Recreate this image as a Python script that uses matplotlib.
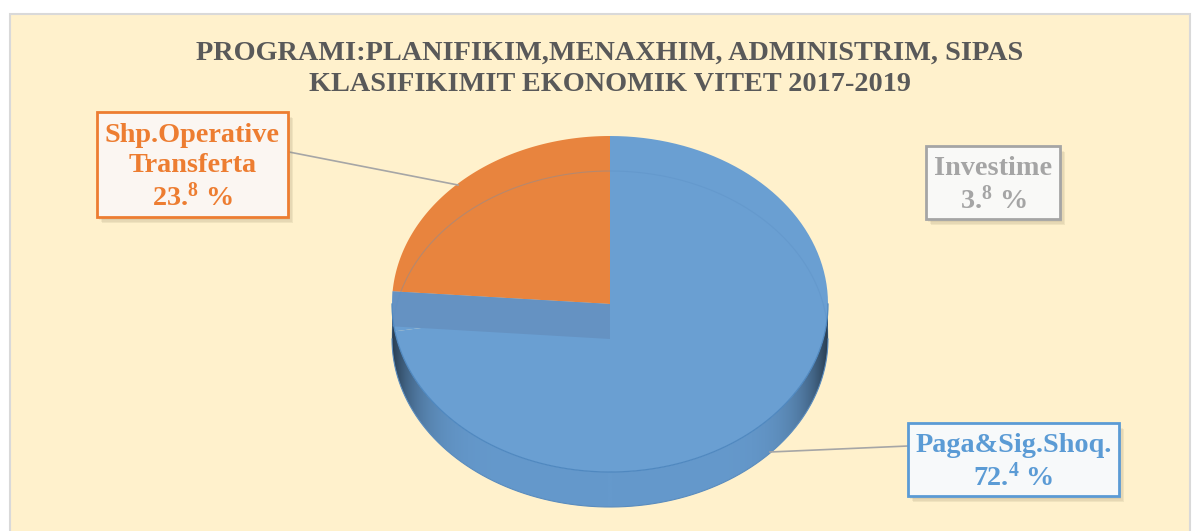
import numpy as np
import matplotlib
matplotlib.use('Agg')
import matplotlib.pyplot as plt
from matplotlib.patches import Polygon, Rectangle

# data
categories = ['Paga&Sig.Shoq.', 'Investime', 'Shp.Operative\nTransferta']
shares = [72.4, 3.8, 23.8]
slice_colors = ['#6A9FD2', '#6A9FD2', '#E8843E']   # Investime slice is not visible in the original
label_colors = ['#5B9BD5', '#A5A5A5', '#ED7D31']
box_fills = ['#F7F9FA', '#F9F9F7', '#FBF6F2']
title = 'PROGRAMI:PLANIFIKIM,MENAXHIM, ADMINISTRIM, SIPAS\nKLASIFIKIMIT EKONOMIK VITET 2017-2019'

plt.rcParams['mathtext.fontset'] = 'custom'
plt.rcParams['mathtext.bf'] = 'Liberation Serif:bold'
plt.rcParams['mathtext.rm'] = 'Liberation Serif:bold'
plt.rcParams['mathtext.default'] = 'bf'

W, H = 1196, 531
fig = plt.figure(figsize=(W / 100, H / 100), dpi=100, facecolor='white')
ax = fig.add_axes([0, 0, 1, 1])
ax.set_xlim(0, W)
ax.set_ylim(H, 0)
ax.axis('off')

# chart area
ax.add_patch(Rectangle((10, 14), 1180, 530, facecolor='#FFF1CC', edgecolor='#D9D9D9', lw=1.5, zorder=0))

ax.text(610, 69, title, ha='center', va='center', fontsize=20.3, fontweight='bold',
        family='Liberation Serif', color='#595959', linespacing=1.32, zorder=5)

# pie geometry (pixels)
cx, cy, rx, ry, depth = 610, 304, 218, 168, 35


def pt(theta, r=1.0, dz=0.0):
    # theta in degrees, clockwise from 12 o'clock
    t = np.radians(theta)
    return cx + r * rx * np.sin(t), cy - r * ry * np.cos(t) + dz


# angles from values
fracs = np.array(shares) / sum(shares)
ends = np.cumsum(fracs) * 360
starts = ends - fracs * 360

# side wall (front half) with shading
th = np.linspace(90, 270, 200)
top = np.array([pt(t) for t in th])
bot = np.array([pt(t, dz=depth) for t in th])[::-1]
wall = Polygon(np.vstack([top, bot]), closed=True, facecolor='none', edgecolor='none', zorder=2)
ax.add_patch(wall)
xs = np.linspace(cx - rx, cx + rx, 400)
tt = np.abs((xs - cx) / rx)
shade = 1 - 0.6 * tt ** 8
base = np.array(matplotlib.colors.to_rgb('#6599CC'))
img = (shade[:, None] * base[None, :])[None, :, :]
im = ax.imshow(img, extent=(cx - rx, cx + rx, cy + ry + depth, cy - 5), aspect='auto', zorder=2)
im.set_clip_path(wall)
ax.plot(bot[:, 0], bot[:, 1], color='#5A8CBE', lw=0.8, zorder=3)

# top face wedges
for s, e, c in zip(starts, ends, slice_colors):
    arc = np.array([pt(t) for t in np.linspace(s, e, 120)])
    ax.add_patch(Polygon(np.vstack([[cx, cy], arc]), closed=True, facecolor=c, edgecolor='none', zorder=4))

# inner radial wall seen through the face under the orange slice
a = starts[2]
p1 = pt(a)
band = [(cx, cy), p1, (p1[0], p1[1] + depth), (cx, cy + depth)]
ax.add_patch(Polygon(band, closed=True, facecolor='#6592C2', edgecolor='none', zorder=5))

# back edge of the bottom rim, faintly visible
bk = np.array([pt(t, dz=depth) for t in np.linspace(-90, 90, 200)])
ax.plot(bk[:, 0], bk[:, 1], color='#5B8FC4', lw=0.8, alpha=0.35, zorder=6)
ax.plot(top[:, 0], top[:, 1], color='#4F88C0', lw=0.9, zorder=6)

# labels
boxes = [(908, 423, 211, 73), (926, 146, 134, 73), (97, 112, 191, 105)]
leaders = [((770, 452), (908, 446)), None, ((458, 185), (289, 152))]
for i, name in enumerate(categories):
    x0, y0, bw, bh = boxes[i]
    for k, al in enumerate([0.10, 0.10, 0.12]):
        off = 2 + k * 1.5
        ax.add_patch(Rectangle((x0 + off, y0 + off + 1), bw, bh, facecolor='#8A7F60',
                               edgecolor='none', alpha=al, zorder=7))
    ax.add_patch(Rectangle((x0, y0), bw, bh, facecolor=box_fills[i], edgecolor=label_colors[i],
                           lw=2, zorder=8))
    whole, dec = str(shares[i]).split('.')
    label = name + '\n' + whole + '.$^{' + dec + '}$ %'
    ax.text(x0 + bw / 2, y0 + bh / 2 + 3, label, ha='center', va='center', fontsize=20.3,
            fontweight='bold', family='Liberation Serif', color=label_colors[i],
            linespacing=1.25, multialignment='center', zorder=9)
    if leaders[i]:
        (ax1, ay1), (bx1, by1) = leaders[i]
        ax.plot([ax1, bx1], [ay1, by1], color='#A6A6A6', lw=1.2, zorder=6)

fig.savefig('out.png', dpi=100, facecolor='white')
